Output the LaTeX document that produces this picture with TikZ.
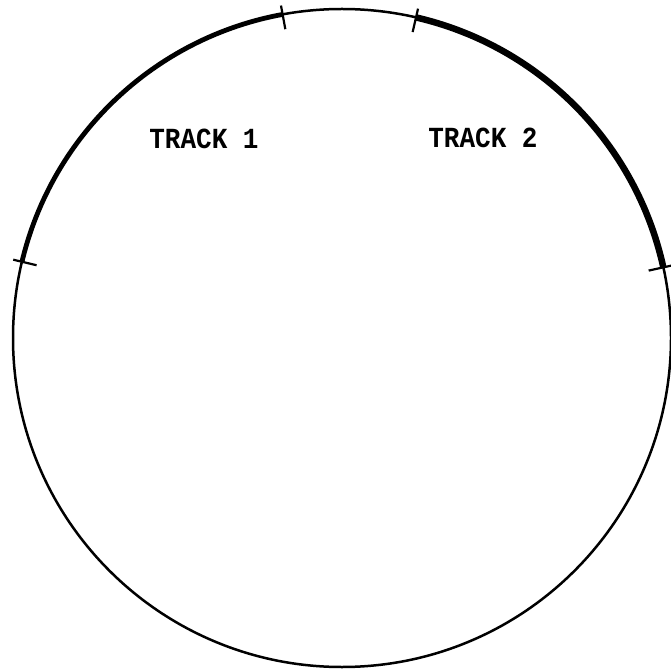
\documentclass[tikz,border=0pt]{standalone}
\usepackage{fontspec}
\setmonofont{Liberation Mono}
\begin{document}
\begin{tikzpicture}[x=1pt,y=1pt,
  base/.style={line width=2.5pt},
  trackone/.style={line width=4.8pt},
  tracktwo/.style={line width=6.5pt},
  tick/.style={line width=2.2pt},
  lbl/.style={font=\ttfamily\bfseries\fontsize{26}{26}\selectfont, inner sep=0pt, yscale=1.12}]
\useasboundingbox (0,0) rectangle (671,670);
\coordinate (c) at (342,332);
\draw[base] (c) circle (329);
\draw[trackone] ([shift={(166.6:329)}]c) arc (166.6:100.4:329);
\draw[tracktwo] ([shift={(77:329)}]c) arc (77:12.4:329);
\foreach \a in {166.6,100.4,77,12.4}
  \draw[tick] ([shift={(\a:314)}]c) -- ([shift={(\a:338)}]c);
\node[lbl, transform shape] (t1) at (204,531) {TRACK 1};
\node[lbl, transform shape] (t2) at (483,532) {TRACK 2};
\end{tikzpicture}
\end{document}
